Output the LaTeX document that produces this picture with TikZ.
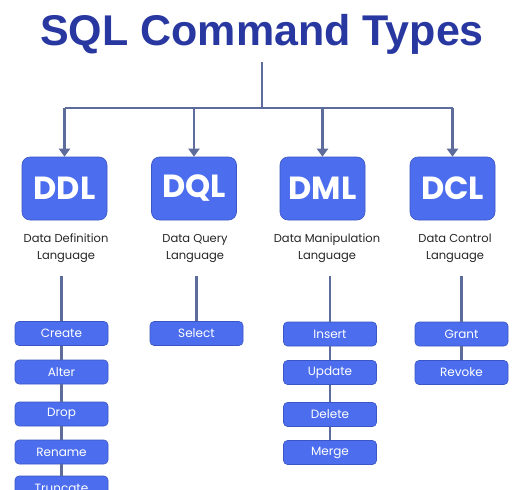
\documentclass[tikz,border=0pt]{standalone}
\usepackage{fontspec}
\setmainfont{Poppins}
\newfontfamily\titlefont{Liberation Sans}
\usetikzlibrary{arrows.meta}
\definecolor{titleblue}{RGB}{40,56,160}
\definecolor{boxblue}{RGB}{76,110,238}
\definecolor{boxedge}{RGB}{58,86,196}
\definecolor{linegray}{RGB}{94,108,156}
\begin{document}
\begin{tikzpicture}[x=1pt,y=-1pt]
\tikzstyle{cat} = [fill=boxblue,draw=boxedge,line width=0.6pt,rounded corners=8pt,minimum width=85pt,minimum height=63pt,inner sep=0pt,text=white,font=\fontsize{32}{32}\selectfont\bfseries]
\tikzstyle{desc} = [align=center,font=\fontsize{11.5}{17}\selectfont,text=black!85,inner sep=0pt]
\tikzstyle{item} = [fill=boxblue,draw=boxedge,line width=0.6pt,rounded corners=4pt,minimum width=93pt,minimum height=24pt,inner sep=0pt,text=white,font=\fontsize{12}{12}\selectfont]
\tikzstyle{link} = [linegray,line width=2.5pt]
\useasboundingbox (0,0) rectangle (515,490);
\clip (0,0) rectangle (515,490);
\fill[white] (0,0) rectangle (515,490);
\node[font=\titlefont\bfseries\fontsize{43}{43}\selectfont,text=titleblue] (title) at (262,34) {SQL Command Types};
\coordinate (top) at (262,62);
\coordinate (hub) at (262,108);
\node[cat] (ddl) at (64.5,188.5) {DDL};
\node[cat] (dql) at (194,188.5) {DQL};
\node[cat] (dml) at (322.5,188.5) {DML};
\node[cat] (dcl) at (452.5,188.5) {DCL};
\draw[link] (top) -- (hub);
\draw[link] (ddl |- hub) -- (dcl |- hub);
\foreach \c in {ddl,dql,dml,dcl}
  \draw[link,-{Triangle[length=8pt,width=11pt]}] (\c |- hub) -- (\c.north);
\node[desc] (ddldesc) at (66,248.5) {Data Definition\\Language};
\node[desc] (dqldesc) at (195,248.5) {Data Query\\Language};
\node[desc] (dmldesc) at (327,248.5) {Data Manipulation\\Language};
\node[desc] (dcldesc) at (455,248.5) {Data Control\\Language};
\coordinate (ddlfoot) at (61.5,276);
\coordinate (dqlfoot) at (196.5,276);
\coordinate (dmlfoot) at (330,276);
\coordinate (dclfoot) at (461.5,276);
\node[item] (create) at (61.5,333.5) {Create};
\node[item] (alter) at (61.5,372) {Alter};
\node[item] (drop) at (61.5,414) {Drop};
\node[item] (rename) at (61.5,452) {Rename};
\node[item] (truncate) at (61.5,488) {Truncate};
\node[item] (select) at (196.5,333.5) {Select};
\node[item] (insert) at (330,334) {Insert};
\node[item] (update) at (330,372.5) {Update};
\node[item] (delete) at (330,414.5) {Delete};
\node[item] (merge) at (330,452.5) {Merge};
\node[item] (grant) at (461.5,334) {Grant};
\node[item] (revoke) at (461.5,372.5) {Revoke};
\draw[link] (ddlfoot) -- (create) (create) -- (alter) (alter) -- (drop) (drop) -- (rename) (rename) -- (truncate);
\draw[link] (dqlfoot) -- (select);
\draw[link] (dmlfoot) -- (insert) (insert) -- (update) (update) -- (delete) (delete) -- (merge);
\draw[link] (dclfoot) -- (grant) (grant) -- (revoke);
\end{tikzpicture}
\end{document}
